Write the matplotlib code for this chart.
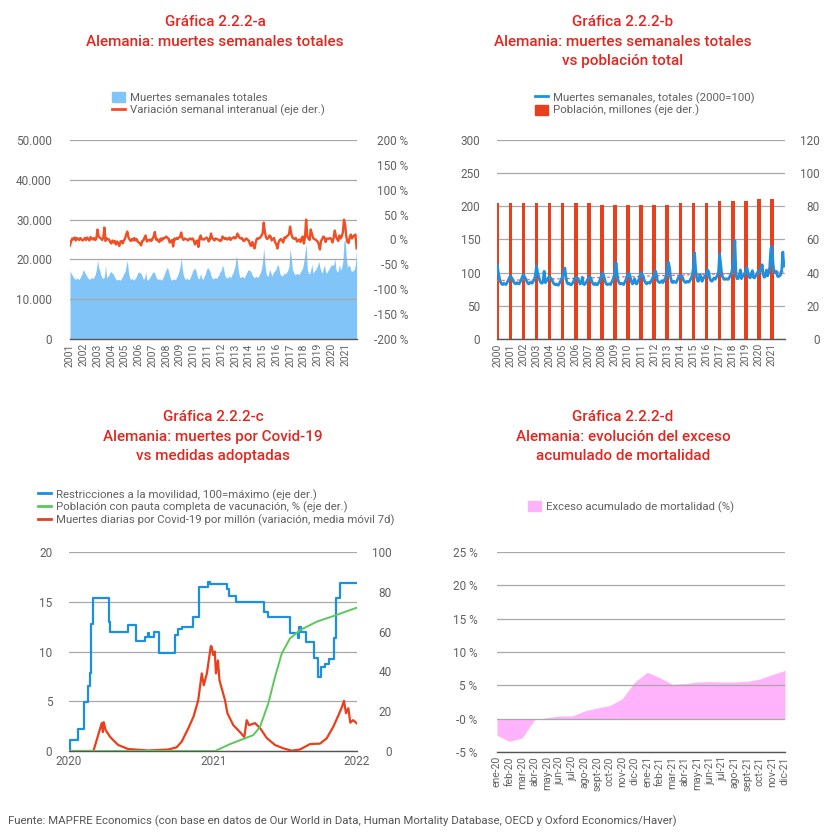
import matplotlib
matplotlib.use('Agg')
import matplotlib.pyplot as plt
import pandas as pd
from matplotlib.patches import Patch
from matplotlib.lines import Line2D

plt.rcParams['font.family'] = ['Roboto', 'DejaVu Sans']

# ---------------- DATA ----------------
# Chart a: weekly deaths (thousands, monthly reading) and YoY variation (%)
years_a = list(range(2001, 2022))
deaths_a = [
    [17.2, 16.5, 16.0, 15.5, 15.2, 15.0, 15.3, 15.1, 15.0, 15.5, 16.0, 17.0],
    [17.3, 16.6, 16.2, 15.6, 15.2, 15.0, 15.2, 15.5, 15.1, 15.6, 16.2, 17.5],
    [19.8, 18.0, 17.2, 16.0, 15.4, 15.2, 15.6, 18.5, 15.3, 15.8, 16.1, 16.8],
    [16.9, 16.5, 16.2, 15.5, 15.0, 14.8, 15.0, 14.9, 14.8, 15.3, 15.8, 16.5],
    [17.0, 18.5, 19.7, 16.8, 15.4, 15.0, 15.2, 14.9, 14.9, 15.3, 15.8, 16.6],
    [16.8, 16.7, 16.5, 15.7, 15.0, 15.3, 16.8, 15.0, 14.8, 15.2, 15.7, 16.2],
    [16.7, 16.9, 16.4, 15.6, 15.1, 14.9, 15.2, 14.9, 14.8, 15.4, 16.0, 16.9],
    [17.6, 18.0, 17.0, 15.8, 15.0, 14.8, 15.1, 15.0, 14.9, 15.5, 16.1, 17.0],
    [18.2, 20.5, 17.5, 15.9, 15.2, 15.0, 15.3, 15.0, 14.9, 15.6, 16.2, 17.2],
    [17.5, 17.8, 17.0, 15.8, 15.1, 15.3, 16.5, 15.2, 15.0, 15.7, 16.3, 17.4],
    [17.9, 17.6, 17.0, 15.9, 15.3, 15.1, 15.4, 15.4, 15.2, 15.8, 16.2, 17.0],
    [17.2, 18.6, 17.6, 16.0, 15.5, 15.3, 15.5, 15.9, 15.3, 16.0, 16.5, 17.4],
    [18.4, 20.9, 19.5, 16.8, 15.6, 15.4, 15.8, 15.6, 15.3, 16.0, 16.6, 17.2],
    [17.4, 17.2, 16.8, 16.0, 15.6, 15.4, 15.8, 15.6, 15.5, 16.1, 16.7, 17.6],
    [19.5, 23.0, 19.0, 16.6, 15.8, 15.9, 17.5, 16.9, 15.8, 16.4, 17.0, 17.2],
    [17.8, 18.8, 18.2, 16.5, 16.0, 15.8, 16.2, 16.6, 16.3, 16.8, 17.3, 18.3],
    [22.7, 20.5, 17.5, 16.8, 16.2, 16.3, 16.5, 16.3, 16.2, 16.9, 17.3, 18.0],
    [19.5, 21.5, 24.0, 17.5, 16.5, 16.4, 17.4, 18.8, 16.5, 17.0, 17.4, 17.8],
    [18.5, 19.5, 18.0, 17.0, 16.6, 17.8, 18.6, 16.8, 16.6, 17.2, 17.6, 18.2],
    [18.7, 18.5, 18.6, 20.3, 17.5, 16.8, 17.2, 18.8, 17.2, 18.0, 19.5, 24.5],
    [25.0, 20.5, 18.0, 18.5, 18.4, 17.2, 17.0, 17.2, 17.5, 18.8, 22.5],
]
yoy_a = [
    [-12, -3, 2, 0, 4, -2, 3, 1, -1, 3, 0, -2],
    [0, 3, -1, 4, 1, -2, 5, 2, 0, 3, -1, 2],
    [20, 6, 4, 2, -1, 3, 24, -3, 2, 1, 0, -5],
    [-8, -2, -6, -3, -10, -4, -8, -13, -4, -3, -8, -2],
    [2, 10, 16, 4, 0, -3, 1, -2, 3, -2, 1, -4],
    [-6, -8, -12, -3, -2, 4, 8, -4, -1, -2, 0, -3],
    [2, 6, 15, 0, 1, -3, -5, 2, -2, 3, 2, 4],
    [6, 3, 2, -6, -3, -1, -14, 2, 0, 3, 1, 4],
    [5, 14, 3, -1, 2, 1, 0, -2, 1, 2, 0, 2],
    [-2, -10, -4, -2, -15, 3, 8, 0, 1, 0, 2, 4],
    [2, -4, 0, 12, 3, 1, -2, 2, 1, 0, -1, -3],
    [-2, 6, 3, 1, 3, 0, 1, 4, -1, 2, 3, 5],
    [2, 4, 12, 8, 3, 2, 3, -2, -3, 1, 2, -1],
    [-2, -10, -13, -5, -12, -18, -6, 2, 1, 3, 4, 8],
    [12, 34, 15, 4, 1, 3, 8, 6, -2, 1, 3, -6],
    [-10, -18, -5, -1, 1, -2, -6, 4, 3, 6, 8, 10],
    [26, 12, 4, 2, 1, 3, -4, -2, 0, -5, 2, 6],
    [-8, 5, 40, 6, 2, -1, 20, 12, 3, 1, 0, -2],
    [-4, -10, -20, -3, 1, 6, 4, -5, 2, 1, 2, 3],
    [0, -6, 4, 18, 6, 1, -3, 8, 2, 6, 14, 40],
    [30, 6, -5, -7, 4, 10, 2, 6, 8, 10, -18],
]
left_ticks_a = [0, 10, 20, 30, 40, 50]
left_labels_a = ['0', '10.000', '20.000', '30.000', '40.000', '50.000']
right_ticks_a = [-200, -150, -100, -50, 0, 50, 100, 150, 200]

# Chart b: deaths index (2000=100, monthly reading), population (millions)
years_b = list(range(2000, 2022))
index_b = [
    [111, 100, 92, 86, 83, 82, 84, 83, 82, 85, 88, 92],
    [95, 93, 90, 86, 84, 83, 85, 84, 83, 86, 89, 94],
    [97, 94, 91, 87, 84, 83, 85, 86, 84, 87, 90, 96],
    [110, 100, 95, 88, 85, 84, 86, 102, 85, 87, 90, 93],
    [94, 92, 90, 86, 83, 82, 83, 82, 81, 84, 87, 91],
    [94, 100, 107, 93, 85, 83, 84, 82, 82, 84, 87, 91],
    [93, 92, 91, 87, 83, 84, 93, 83, 82, 84, 87, 90],
    [92, 94, 91, 86, 83, 82, 84, 82, 82, 85, 88, 93],
    [97, 99, 94, 87, 83, 82, 83, 83, 82, 86, 89, 94],
    [100, 115, 97, 88, 84, 83, 84, 83, 82, 86, 89, 95],
    [97, 99, 94, 87, 83, 85, 91, 84, 83, 87, 90, 96],
    [99, 97, 94, 88, 85, 83, 85, 85, 84, 87, 90, 94],
    [95, 103, 97, 88, 86, 85, 86, 88, 85, 88, 91, 96],
    [102, 116, 108, 93, 86, 85, 87, 86, 85, 88, 92, 95],
    [96, 95, 93, 88, 86, 85, 87, 86, 86, 89, 92, 97],
    [108, 130, 105, 92, 87, 88, 97, 93, 87, 91, 94, 95],
    [98, 104, 101, 91, 88, 87, 90, 92, 90, 93, 96, 101],
    [128, 113, 97, 93, 90, 90, 91, 90, 90, 93, 96, 100],
    [108, 119, 148, 97, 91, 91, 96, 104, 91, 94, 96, 98],
    [102, 108, 100, 94, 92, 98, 103, 93, 92, 95, 97, 101],
    [103, 102, 103, 112, 97, 93, 95, 104, 95, 100, 108, 136],
    [140, 114, 100, 102, 102, 95, 94, 95, 97, 104, 131, 110],
]
population_b = [81.8, 81.8, 81.8, 81.8, 81.8, 81.8, 81.8, 81.8,
                80.6, 80.6, 80.6, 80.6, 80.6, 80.6,
                81.8, 81.8, 81.8, 83.0, 83.0, 83.0, 84.2, 84.2]
trend_years_b = [2000, 2021.9]
trend_b = [88, 101]

# Chart c: days since 2020-01-01 and values
restr_day = [0, 2, 24, 39, 49, 53, 57, 62, 102, 104, 117, 149, 169, 193, 200, 203,
             217, 229, 269, 277, 288, 316, 330, 352, 357, 400, 407, 424, 496, 506,
             561, 580, 585, 588, 602, 622, 631, 639, 650, 661, 673, 678, 687, 731]
restr_val = [0, 5.5, 11, 24.6, 32.8, 39, 64, 77, 65, 60, 60, 63.3, 55.3, 57.3, 59.3, 57.3,
             59.8, 49.4, 58.3, 61.3, 62.3, 67.5, 82.6, 85, 84, 81.4, 78, 75, 70, 67.5,
             59.3, 56.8, 62.3, 60, 55, 46.7, 37.3, 42.4, 43.7, 46, 56.8, 77, 84.6, 84.6]
vacc_day = [0, 371, 409, 468, 485, 506, 523, 540, 561, 587, 629, 671, 730]
vacc_val = [0, 0, 3.5, 8, 12.2, 24, 37.3, 49, 56.6, 60.8, 65, 67.8, 72]
covid_day = [0, 62, 74, 83, 86, 88, 93, 104, 112, 125, 150, 201, 252, 273, 286, 303,
             316, 328, 337, 342, 350, 360, 362, 366, 370, 373, 378, 382, 396, 402, 417,
             434, 445, 451, 457, 472, 485, 502, 523, 544, 565, 586, 612, 637, 654, 671,
             684, 693, 698, 703, 709, 714, 721, 730]
covid_val = [0, 0, 1.6, 2.8, 1.9, 2.9, 2.1, 1.44, 1.1, 0.6, 0.2, 0.05, 0.15, 0.37, 0.94, 2.3,
             3.45, 5.1, 7.8, 6.6, 7.8, 10.55, 10.5, 9.65, 10.0, 7.8, 9.1, 7.1, 5.1, 3.8, 2.6,
             1.9, 1.4, 3.1, 2.6, 2.8, 2.3, 1.3, 0.6, 0.27, 0.03, 0.15, 0.7, 0.74, 1.27, 2.45,
             3.6, 4.45, 5.05, 3.8, 4.3, 2.85, 3.1, 2.8]

# Chart d: cumulative excess mortality (%)
months_d = ['ene-20', 'feb-20', 'mar-20', 'abr-20', 'may-20', 'jun-20', 'jul-20', 'ago-20',
            'sept-20', 'oct-20', 'nov-20', 'dic-20', 'ene-21', 'feb-21', 'mar-21', 'abr-21',
            'may-21', 'jun-21', 'jul-21', 'ago-21', 'sept-21', 'oct-21', 'nov-21', 'dic-21']
excess_d = [-2.5, -3.4, -2.9, -0.15, 0.15, 0.4, 0.4, 1.15, 1.6, 1.95, 3.0, 5.5,
            6.95, 6.15, 5.15, 5.25, 5.5, 5.55, 5.5, 5.5, 5.6, 5.95, 6.6, 7.25]
ticks_d = [-5, 0, 5, 10, 15, 20, 25]
tick_labels_d = ['-5 %', '-0 %', '5 %', '10 %', '15 %', '20 %', '25 %']

# ---------------- STYLE ----------------
TITLE_C = '#e3261f'
TXT = '#606060'
GRID = '#a8a8a8'
SPINE = '#555555'
W, H = 831, 838

fig = plt.figure(figsize=(W / 100, H / 100), dpi=100)


def box(l, t, r, b):
    return fig.add_axes([l / W, 1 - b / H, (r - l) / W, (b - t) / H])


def style(ax, pad_left):
    for s in ['top', 'right', 'left']:
        ax.spines[s].set_visible(False)
    ax.spines['bottom'].set_color(SPINE)
    ax.spines['bottom'].set_linewidth(1.0)
    ax.tick_params(length=0, labelcolor=TXT, labelsize=8.5)
    ax.tick_params(axis='y', pad=pad_left)


def style_right(ax2, pad):
    for s in ['top', 'right', 'left', 'bottom']:
        ax2.spines[s].set_visible(False)
    ax2.tick_params(length=0, labelcolor=TXT, labelsize=8.5, pad=pad)
    for lab in ax2.get_yticklabels():
        lab.set_ha('right')


def title(x, ys, lines):
    for y, s in zip(ys, lines):
        fig.text(x / W, 1 - y / H, s, color=TITLE_C, fontsize=11, fontweight=500,
                 ha='center', va='center')


def legend(x, y, handles, labels):
    fig.legend(handles, labels, loc='upper left', bbox_to_anchor=(x / W, 1 - y / H),
               frameon=False, fontsize=8.2, labelcolor=TXT, handlelength=1.1,
               handleheight=1.0, handletextpad=0.5, labelspacing=0.1,
               borderaxespad=0, borderpad=0)


# ---------------- CHART A ----------------
xa, da, ya = [], [], []
for yr, drow, vrow in zip(years_a, deaths_a, yoy_a):
    for m, (d, v) in enumerate(zip(drow, vrow)):
        xa.append(yr + m / 12)
        da.append(d)
        ya.append(v)

ax = box(70, 140, 357, 339)
ax.fill_between(xa, da, 0, color='#80c4f8', lw=0, zorder=1)
ax.set_ylim(0, 50)
ax.set_yticks(left_ticks_a)
ax.set_yticklabels(left_labels_a)
ax.set_xlim(2001, xa[-1] + 0.03)
ax.set_xticks(years_a)
ax.set_xticklabels([str(y) for y in years_a], rotation=90, fontsize=7.5)
ax.set_axisbelow(False)
ax.grid(axis='y', color=GRID, lw=0.9, zorder=2)
ax.grid(axis='x', visible=False)
style(ax, 13)
ax.tick_params(axis='x', pad=3, labelsize=7.5)
ax2 = ax.twinx()
ax2.plot(xa, ya, color='#f04e23', lw=1.7, zorder=3)
ax2.set_ylim(-200, 200)
ax2.set_yticks(right_ticks_a)
ax2.set_yticklabels([f'{v} %' for v in right_ticks_a])
style_right(ax2, 37)

title(215, [22, 42], ['Gráfica 2.2.2-a', 'Alemania: muertes semanales totales'])
legend(112, 92, [Patch(color='#80c4f8'), Line2D([], [], color='#f04e23', lw=2)],
       ['Muertes semanales totales', 'Variación semanal interanual (eje der.)'])

# ---------------- CHART B ----------------
xb, vb = [], []
for yr, row in zip(years_b, index_b):
    for m, v in enumerate(row):
        xb.append(yr + m / 12)
        vb.append(v)

bx = box(497, 140, 785, 339)
bx2 = bx.twinx()
bx2.bar(years_b, population_b, width=0.28, color='#e8401c', zorder=2)
bx2.set_ylim(0, 120)
bx2.set_yticks([0, 20, 40, 60, 80, 100, 120])
bx2.set_axisbelow(True)
bx2.grid(axis='y', color=GRID, lw=0.9)
style_right(bx2, 25)
bx.set_zorder(bx2.get_zorder() + 1)
bx.patch.set_visible(False)
bx.plot(trend_years_b, trend_b, color='#e0607a', lw=0.9, ls=(0, (2, 2)), zorder=3)
bx.plot(xb, vb, color='#1e90e0', lw=2.0, zorder=4)
bx.set_ylim(0, 300)
bx.set_yticks([0, 50, 100, 150, 200, 250, 300])
bx.set_xlim(1999.98, 2022.0)
bx.set_xticks(years_b)
bx.set_xticklabels([str(y) for y in years_b], rotation=90)
style(bx, 12)
bx.tick_params(axis='x', pad=3, labelsize=7.5)

title(623, [22, 42, 61], ['Gráfica 2.2.2-b', 'Alemania: muertes semanales totales',
                          'vs población total'])
legend(535, 92, [Line2D([], [], color='#1e90e0', lw=2), Patch(color='#e8401c')],
       ['Muertes semanales, totales (2000=100)', 'Población, millones (eje der.)'])

# ---------------- CHART C ----------------
base = pd.Timestamp('2020-01-01')
to_dates = lambda days: [base + pd.Timedelta(days=d) for d in days]

cx = box(69, 552, 357, 751)
cx2 = cx.twinx()
cx.plot(to_dates(covid_day), covid_val, color='#e8401c', lw=1.6, zorder=3)
cx2.step(to_dates(restr_day), restr_val, where='post', color='#1b8fe0', lw=1.6)
cx2.plot(to_dates(vacc_day), vacc_val, color='#5cc85a', lw=1.4)
cx.set_ylim(0, 20)
cx.set_yticks([0, 5, 10, 15, 20])
cx.grid(axis='y', color=GRID, lw=0.9)
cx.set_axisbelow(True)
cx2.set_ylim(0, 100)
cx2.set_yticks([0, 20, 40, 60, 80, 100])
style_right(cx2, 25)
cx.set_xlim(pd.Timestamp('2020-01-01'), pd.Timestamp('2022-01-01'))
xt = [pd.Timestamp('2020-01-01'), pd.Timestamp('2021-01-01'), pd.Timestamp('2022-01-01')]
cx.set_xticks(xt)
cx.set_xticklabels(['2020', '2021', '2022'])
style(cx, 12)
cx.tick_params(axis='x', pad=3)

title(213, [417, 437, 456], ['Gráfica 2.2.2-c', 'Alemania: muertes por Covid-19',
                             'vs medidas adoptadas'])
legend(38, 489, [Line2D([], [], color='#1b8fe0', lw=2), Line2D([], [], color='#5cc85a', lw=2),
                 Line2D([], [], color='#e8401c', lw=2)],
       ['Restricciones a la movilidad, 100=máximo (eje der.)',
        'Población con pauta completa de vacunación, % (eje der.)',
        'Muertes diarias por Covid-19 por millón (variación, media móvil 7d)'])

# ---------------- CHART D ----------------
dx = box(497, 552, 785, 752)
xd = list(range(len(months_d)))
dx.fill_between(xd, excess_d, 0, color='#ffb3fb', lw=0, zorder=1)
dx.set_ylim(-5, 25)
dx.set_yticks(ticks_d)
dx.set_yticklabels(tick_labels_d)
dx.set_xlim(0, len(months_d) - 1)
dx.set_xticks(xd)
dx.set_xticklabels(months_d, rotation=90, fontsize=7.5)
dx.set_axisbelow(False)
dx.grid(axis='y', color=GRID, lw=0.9, zorder=2)
style(dx, 14)
dx.tick_params(axis='x', pad=3, labelsize=7.5)

title(623, [417, 437, 456], ['Gráfica 2.2.2-d', 'Alemania: evolución del exceso',
                             'acumulado de mortalidad'])
legend(528, 501, [Patch(color='#ffb3fb')], ['Exceso acumulado de mortalidad (%)'])

fig.text(8 / W, 1 - 821 / H,
         'Fuente: MAPFRE Economics (con base en datos de Our World in Data, Human Mortality '
         'Database, OECD y Oxford Economics/Haver)',
         fontsize=8.2, color='#555555', ha='left', va='center')

fig.savefig('out.png', dpi=100, facecolor='white')
